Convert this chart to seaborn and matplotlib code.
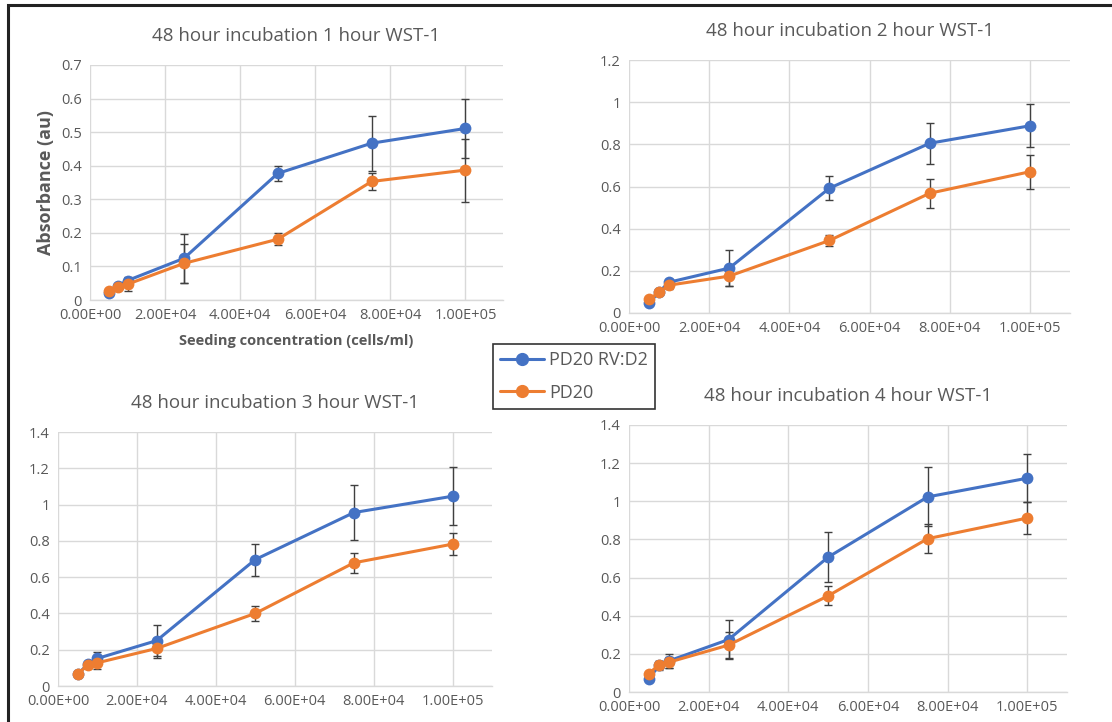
import matplotlib
matplotlib.use("Agg")
import matplotlib.pyplot as plt
import seaborn as sns
import pandas as pd
import numpy as np
from matplotlib.patches import Rectangle
from matplotlib.lines import Line2D
from matplotlib.ticker import FixedLocator, FixedFormatter, FuncFormatter

# ---------------- data ----------------
seeding = [5000, 7500, 10000, 25000, 50000, 75000, 100000]
series_names = ["PD20 RV:D2", "PD20"]

titles = ["48 hour incubation 1 hour WST-1", "48 hour incubation 2 hour WST-1",
          "48 hour incubation 3 hour WST-1", "48 hour incubation 4 hour WST-1"]

rv_1h = [0.022, 0.043, 0.058, 0.124, 0.377, 0.467, 0.511]
rv_1h_err = [0.004, 0.006, 0.012, 0.073, 0.022, 0.082, 0.088]
pd_1h = [0.028, 0.040, 0.047, 0.109, 0.181, 0.353, 0.387]
pd_1h_err = [0.004, 0.008, 0.020, 0.057, 0.018, 0.024, 0.094]

rv_2h = [0.048, 0.100, 0.146, 0.213, 0.592, 0.805, 0.888]
rv_2h_err = [0.005, 0.010, 0.015, 0.085, 0.056, 0.098, 0.103]
pd_2h = [0.065, 0.098, 0.132, 0.175, 0.344, 0.568, 0.670]
pd_2h_err = [0.005, 0.010, 0.020, 0.045, 0.027, 0.068, 0.080]

rv_3h = [0.065, 0.119, 0.152, 0.250, 0.697, 0.956, 1.046]
rv_3h_err = [0.005, 0.015, 0.038, 0.087, 0.088, 0.152, 0.160]
pd_3h = [0.064, 0.116, 0.128, 0.207, 0.400, 0.679, 0.782]
pd_3h_err = [0.005, 0.015, 0.034, 0.055, 0.040, 0.055, 0.062]

rv_4h = [0.067, 0.140, 0.163, 0.275, 0.707, 1.023, 1.121]
rv_4h_err = [0.006, 0.025, 0.035, 0.100, 0.130, 0.155, 0.127]
pd_4h = [0.095, 0.144, 0.156, 0.246, 0.504, 0.804, 0.912]
pd_4h_err = [0.006, 0.020, 0.030, 0.070, 0.050, 0.075, 0.085]

xtick_values = [0, 20000, 40000, 60000, 80000, 100000]
xtick_labels = ["0.00E+00", "2.00E+04", "4.00E+04", "6.00E+04", "8.00E+04", "1.00E+05"]
ymax_list = [0.7, 1.2, 1.4, 1.4]
ystep_list = [0.1, 0.2, 0.2, 0.2]

x_label = "Seeding concentration (cells/ml)"
y_label = "Absorbance (au)"

# ---------------- style ----------------
sns.set_theme(style="white")
plt.rcParams['font.family'] = ['Open Sans', 'DejaVu Sans']

BLUE = "#4472C4"
ORANGE = "#ED7D31"
GRAY_TXT = "#595959"
GRID = "#D9D9D9"
palette = {series_names[0]: BLUE, series_names[1]: ORANGE}

fig = plt.figure(figsize=(11.12, 7.22), dpi=100)

W, H = 1112, 722
def axes_px(l, r, t, b):
    return [l / W, 1 - b / H, (r - l) / W, (b - t) / H]

positions = [axes_px(90, 503, 65, 300), axes_px(629, 1070, 60, 313),
             axes_px(58, 492, 432, 686), axes_px(629, 1067, 425, 692)]

panels = [(rv_1h, rv_1h_err, pd_1h, pd_1h_err), (rv_2h, rv_2h_err, pd_2h, pd_2h_err),
          (rv_3h, rv_3h_err, pd_3h, pd_3h_err), (rv_4h, rv_4h_err, pd_4h, pd_4h_err)]

for i, (pos, (rv, rve, pdv, pde)) in enumerate(zip(positions, panels)):
    ax = fig.add_axes(pos)
    df = pd.DataFrame({
        "x": seeding * 2,
        "y": rv + pdv,
        "series": [series_names[0]] * len(seeding) + [series_names[1]] * len(seeding),
    })
    for vals, errs in ((rv, rve), (pdv, pde)):
        ax.errorbar(seeding, vals, yerr=errs, fmt="none", ecolor="#404040",
                    elinewidth=1.0, capsize=3, capthick=1.0, zorder=2)
    sns.lineplot(data=df, x="x", y="y", hue="series", palette=palette, marker="o",
                 markersize=8.5, markeredgewidth=0, linewidth=2.2, ax=ax, legend=False,
                 zorder=3, sort=False)

    ax.set_xlim(0, 110000)
    ymax = ymax_list[i]
    ax.set_ylim(0, ymax)
    ax.xaxis.set_major_locator(FixedLocator(xtick_values))
    ax.xaxis.set_major_formatter(FixedFormatter(xtick_labels))
    step = ystep_list[i]
    yt = np.round(np.arange(0, ymax + step / 2, step), 2)
    ax.yaxis.set_major_locator(FixedLocator(yt))
    ax.yaxis.set_major_formatter(FuncFormatter(lambda v, p: f"{v:g}"))
    ax.grid(True, color=GRID, linewidth=1.0)
    ax.set_axisbelow(True)
    for s in ("top", "right", "left"):
        ax.spines[s].set_visible(False)
    ax.spines["bottom"].set_color(GRID)
    ax.spines["bottom"].set_linewidth(1.0)
    ax.tick_params(axis="both", labelsize=10.5, colors=GRAY_TXT, length=0, pad=6)
    ax.set_title(titles[i], fontsize=13.5, color=GRAY_TXT, pad=17)
    if i == 0:
        ax.set_xlabel(x_label, fontsize=10.5, fontweight="bold", color=GRAY_TXT, labelpad=8)
        ax.set_ylabel(y_label, fontsize=13, fontweight="bold", color=GRAY_TXT, labelpad=4)
    else:
        ax.set_xlabel("")
        ax.set_ylabel("")

# legend
handles = [Line2D([0], [0], color=BLUE, marker="o", markersize=8.5, linewidth=2.2),
           Line2D([0], [0], color=ORANGE, marker="o", markersize=8.5, linewidth=2.2)]
leg = fig.legend(handles, series_names, loc="upper left",
                 bbox_to_anchor=(493 / W, 1 - 344 / H), borderaxespad=0, fontsize=13,
                 frameon=True, fancybox=False, handlelength=2.4, labelspacing=0.8,
                 borderpad=0.4, handletextpad=0.3, labelcolor=GRAY_TXT)
leg.get_frame().set_edgecolor("black")
leg.get_frame().set_linewidth(1.2)

# outer frame
fig.add_artist(Rectangle((8 / W, -0.05), 1.2, 1 - 4.5 / H + 0.05, transform=fig.transFigure,
                         fill=False, edgecolor="#222222", linewidth=2.2))

fig.savefig("out.png", dpi=100)
